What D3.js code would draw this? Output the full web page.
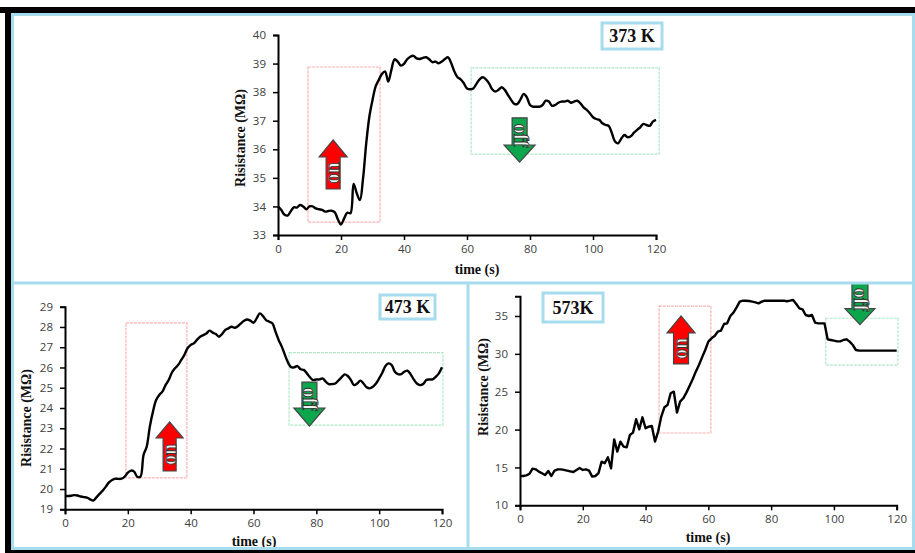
<!DOCTYPE html>
<html><head><meta charset="utf-8">
<script src="https://cdn.jsdelivr.net/npm/d3@7"></script>
<style>body{margin:0;background:#fff}</style>
</head><body><svg id="c" width="915" height="553"></svg>
<script>
// ---------- DATA ----------
const time = d3.range(0, 121);
const r373 = [34.0,33.88,33.72,33.68,33.82,33.97,33.96,34.05,34.0,33.9,34.0,34.0,33.93,33.9,33.88,33.82,33.84,33.85,33.8,33.55,
33.37,33.58,33.78,33.76,34.79,34.46,34.22,34.98,36.2,37.14,37.72,38.2,38.43,38.64,38.72,38.37,38.78,39.15,39.07,38.93,
38.99,39.15,39.24,39.27,39.18,39.16,39.2,39.22,39.15,39.05,39.07,39.01,39.07,39.16,39.22,39.01,38.72,38.52,38.45,38.31,
38.13,38.1,38.13,38.29,38.45,38.52,38.45,38.31,38.1,38.02,38.08,38.17,38.08,37.9,37.73,37.59,37.59,37.75,37.94,37.82,
37.55,37.49,37.49,37.49,37.55,37.7,37.67,37.52,37.55,37.63,37.67,37.67,37.7,37.63,37.67,37.7,37.61,37.47,37.38,37.26,
37.12,37.06,37.03,36.91,36.85,36.82,36.56,36.27,36.21,36.38,36.5,36.42,36.46,36.58,36.68,36.77,36.89,36.85,36.82,36.97,37.03];
const r473 = [19.66,19.66,19.67,19.7,19.68,19.63,19.6,19.58,19.49,19.43,19.59,19.76,19.92,20.12,20.33,20.45,20.51,20.5,20.51,20.61,
20.81,20.91,20.86,20.61,20.61,21.68,22.09,23.08,23.82,24.39,24.64,24.81,25.13,25.38,25.74,25.96,26.12,26.37,26.62,26.95,
27.11,27.19,27.36,27.52,27.6,27.68,27.82,27.72,27.65,27.52,27.65,27.85,27.93,28.01,27.96,28.04,28.18,28.31,28.37,28.31,
28.21,28.42,28.67,28.54,28.34,28.26,28.18,27.77,27.36,27.03,26.62,26.24,26.01,26.01,26.07,25.91,25.88,25.71,25.51,25.38,
25.41,25.41,25.46,25.3,25.18,25.18,25.21,25.35,25.51,25.66,25.58,25.38,25.13,25.21,25.35,25.21,25.02,24.97,25.05,25.21,
25.46,25.74,26.07,26.2,26.12,25.79,25.67,25.67,25.79,25.84,25.67,25.41,25.21,25.13,25.18,25.38,25.41,25.41,25.54,25.71,26.01];
const r573 = [13.87,13.87,13.96,14.14,14.84,14.75,14.45,14.23,14.0,14.53,13.87,14.58,14.75,14.75,14.67,14.58,14.49,14.4,14.67,14.93,
14.67,14.75,14.58,13.79,13.87,14.23,15.77,15.55,16.34,14.89,18.71,17.09,18.41,17.75,17.66,19.29,19.6,21.36,20.04,21.62,
20.17,20.39,20.48,18.41,19.73,21.71,22.94,23.25,24.79,25.01,22.24,23.69,24.13,24.88,25.76,26.64,27.65,28.53,29.54,30.51,
31.61,32.05,32.36,32.93,33.06,33.94,34.03,35.0,35.44,36.14,36.89,37.02,37.02,36.98,36.89,36.8,36.67,36.89,37.02,37.02,
37.02,37.02,37.02,37.02,37.02,36.94,37.02,37.11,36.58,36.0,35.88,35.13,35.0,35.13,34.12,34.03,34.03,34.03,31.92,31.83,
31.74,31.65,31.65,31.83,31.92,31.61,31.17,30.51,30.42,30.42,30.42,30.42,30.42,30.42,30.42,30.42,30.42,30.42,30.42,30.42,30.42];
const panelLabels = ["373 K", "473 K", "573K"];
const xTicks = [0, 20, 40, 60, 80, 100, 120];
const yTicks373 = [33, 34, 35, 36, 37, 38, 39, 40];
const yTicks473 = [19, 20, 21, 22, 23, 24, 25, 26, 27, 28, 29];
const yTicks573 = [10, 15, 20, 25, 30, 35];
const xTitle = "time (s)";
const yTitle = "Risistance (MΩ)";

// ---------- LAYOUT ----------
const svg = d3.select("#c");
svg.append("rect").attr("width", 915).attr("height", 553).attr("fill", "#fff");

const panels = [
  { values: r373, yTicks: yTicks373, yDom: [33, 40], label: panelLabels[0],
    xr: [278, 656], yr: [235, 35], curve: d3.curveCatmullRom,
    box: [602, 23, 60, 26], xt: [477, 274], yt: [240, 138],
    redBox: {x: [9.5, 32.4], y: [33.45, 38.88]}, greenBox: {x: [61.3, 121], y: [35.83, 38.85]},
    up: {x: 17.5, tip: 36.33, base: 35.73, tail: 34.61, hw: 28, sw: 14},
    down: {x: 76.7, tip: 35.55, base: 36.15, tail: 37.1, hw: 31, sw: 15} },
  { values: r473, yTicks: yTicks473, yDom: [19, 29], label: panelLabels[1],
    xr: [65, 442], yr: [509.3, 306.7], curve: d3.curveCatmullRom,
    box: [380, 295, 55, 24], xt: [254, 546], yt: [26, 418],
    redBox: {x: [19.4, 38.8], y: [20.55, 28.2]}, greenBox: {x: [71.3, 120.3], y: [23.15, 26.73]},
    up: {x: 33.3, tip: 23.31, base: 22.52, tail: 20.89, hw: 27, sw: 13},
    down: {x: 77.8, tip: 23.11, base: 24.0, tail: 25.28, hw: 31, sw: 15} },
  { values: r573, yTicks: yTicks573, yDom: [10, 37.6], label: panelLabels[2],
    xr: [520, 896.7], yr: [505.3, 296.3], curve: d3.curveLinear,
    box: [543, 293, 60, 29], xt: [708, 542], yt: [483, 387],
    redBox: {x: [44.3, 60.8], y: [19.55, 36.3]}, greenBox: {x: [97.4, 120.4], y: [28.5, 34.7]},
    up: {x: 51.3, tip: 35.0, base: 32.76, tail: 28.67, hw: 28, sw: 15},
    down: {x: 108.3, tip: 33.87, base: 35.98, tail: 39.4, hw: 30, sw: 16} }
];

function drawPanel(p) {
  const g = svg.append("g");
  const x = d3.scaleLinear().domain([0, 120]).range(p.xr);
  const y = d3.scaleLinear().domain(p.yDom).range(p.yr);

  // annotation boxes
  [[p.redBox, "#ffb0b0"], [p.greenBox, "#b0e8c8"]].forEach(([b, c]) => {
    g.append("rect")
      .attr("x", x(b.x[0])).attr("y", y(b.y[1]))
      .attr("width", x(b.x[1]) - x(b.x[0])).attr("height", y(b.y[0]) - y(b.y[1]))
      .attr("fill", "none").attr("stroke", c).attr("stroke-width", 1.2)
      .attr("stroke-dasharray", "3,1");
  });

  // axes
  const ax = g.append("g").attr("transform", `translate(0,${p.yr[0]})`)
    .call(d3.axisBottom(x).tickValues(xTicks).tickFormat(d3.format("d")).tickSize(5).tickPadding(5));
  const ay = g.append("g").attr("transform", `translate(${p.xr[0]},0)`)
    .call(d3.axisLeft(y).tickValues(p.yTicks).tickFormat(d3.format("d")).tickSize(5).tickPadding(7));
  [ax, ay].forEach(a => {
    a.select(".domain").attr("stroke", "#000").attr("stroke-width", 2);
    a.selectAll(".tick line").attr("stroke", "#000").attr("stroke-width", 1.5);
    a.selectAll("text").attr("fill", "#404040").attr("font-family", "'Open Sans', sans-serif").attr("font-size", 11.5);
  });

  // line
  const line = d3.line().x((d, i) => x(time[i])).y(d => y(d)).curve(p.curve);
  g.append("path").datum(p.values).attr("d", line)
    .attr("fill", "none").attr("stroke", "#000").attr("stroke-width", 2.4)
    .attr("stroke-linejoin", "round");

  // titles
  g.append("text").attr("x", p.xt[0]).attr("y", p.xt[1])
    .attr("text-anchor", "middle").attr("font-family", "'Liberation Serif', serif")
    .attr("font-weight", "bold").attr("font-size", 14).attr("fill", "#111").text(xTitle);
  g.append("text").attr("transform", `translate(${p.yt[0]},${p.yt[1]}) rotate(-90)`)
    .attr("text-anchor", "middle").attr("dy", "0.35em").attr("font-family", "'Liberation Serif', serif")
    .attr("font-weight", "bold").attr("font-size", 14).attr("fill", "#111").text(yTitle);

  // label box
  g.append("rect").attr("x", p.box[0]).attr("y", p.box[1]).attr("width", p.box[2]).attr("height", p.box[3])
    .attr("fill", "#fff").attr("stroke", "#a6dcee").attr("stroke-width", 3);
  g.append("text").attr("x", p.box[0] + p.box[2] / 2).attr("y", p.box[1] + p.box[3] / 2)
    .attr("dy", "0.36em").attr("text-anchor", "middle").attr("font-family", "'Liberation Serif', serif")
    .attr("font-weight", "bold").attr("font-size", 18).attr("fill", "#111").text(p.label);

  // arrows
  function arrow(a, fill, txt, rot) {
    const cx = x(a.x), tip = y(a.tip), base = y(a.base), tail = y(a.tail);
    const pts = [[cx, tip], [cx + a.hw / 2, base], [cx + a.sw / 2, base], [cx + a.sw / 2, tail],
                 [cx - a.sw / 2, tail], [cx - a.sw / 2, base], [cx - a.hw / 2, base]];
    g.append("polygon").attr("points", pts.map(q => q.join(",")).join(" "))
      .attr("fill", fill).attr("stroke", "#444").attr("stroke-width", 1.2).attr("stroke-linejoin", "miter");
    const ty = (base + tail) / 2 + (rot > 0 ? 4 : 0);
    g.append("text").attr("transform", `translate(${cx},${ty}) rotate(${rot})`)
      .attr("text-anchor", "middle").attr("dy", "0.3em")
      .attr("font-family", "'Liberation Serif', serif").attr("font-weight", "bold").attr("font-size", 20)
      .attr("fill", "#f2f2f2").attr("stroke", "#333").attr("stroke-width", 0.9).text(txt);
  }
  arrow(p.up, "#ff0000", "on", -90);
  arrow(p.down, "#0ca64c", "off", 90);
}
panels.forEach(drawPanel);

// frame: black outer band and light-blue panel borders
svg.append("rect").attr("x", 0).attr("y", 7).attr("width", 915).attr("height", 6).attr("fill", "#000");
svg.append("rect").attr("x", 5).attr("y", 7).attr("width", 6).attr("height", 546).attr("fill", "#000");
svg.append("rect").attr("x", 5).attr("y", 550).attr("width", 910).attr("height", 3).attr("fill", "#000");
const blue = "#a6dcee";
svg.append("rect").attr("x", 12.5).attr("y", 14.5).attr("width", 901).attr("height", 534)
  .attr("fill", "none").attr("stroke", blue).attr("stroke-width", 3);
svg.append("line").attr("x1", 12).attr("x2", 914).attr("y1", 283).attr("y2", 283).attr("stroke", blue).attr("stroke-width", 3);
svg.append("line").attr("x1", 468).attr("x2", 468).attr("y1", 283).attr("y2", 549).attr("stroke", blue).attr("stroke-width", 3);
</script></body></html>
